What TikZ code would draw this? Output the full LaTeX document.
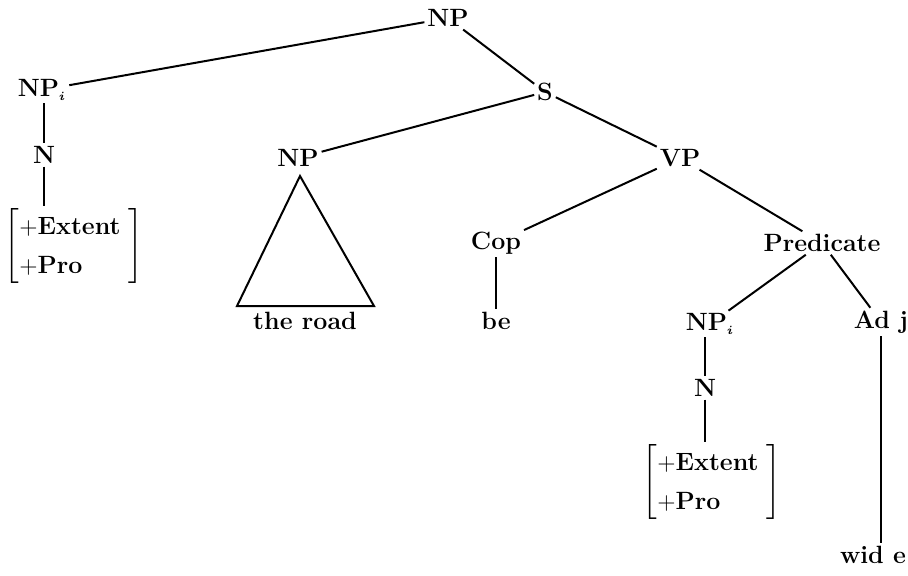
\documentclass[tikz,border=0pt]{standalone}
\usepackage{amsmath}
\usepackage{amssymb}
\usetikzlibrary{positioning}

\newcommand{\featbox}[1]{$\renewcommand{\arraystretch}{1.3}\left[\begin{array}{@{}l@{\hspace{#1}}}
   +\textbf{Extent}\\+\textbf{Pro}\end{array}\right]$}

\begin{document}
\begin{tikzpicture}[x=0.5pt,y=-0.5pt,line width=1pt,
                    cat node/.style={font=\fontsize{12.5}{15}\selectfont\bfseries,inner sep=1pt},
                    feat node/.style={font=\fontsize{12.5}{15}\selectfont\bfseries,inner sep=0pt}]

\useasboundingbox (0,0) rectangle (908,575);

\node[cat node] (np) at (448,18) {NP};
\node[cat node] (npi) at (42,90) {NP$_{\scriptscriptstyle\boldsymbol{i}}$};
\node[cat node] (s) at (545,92) {S};
\node[cat node] (n1) at (44,155) {N};
\node[feat node] (feat1) at (74,246) {\featbox{4pt}};
\node[cat node] (npm) at (298,158) {NP};
\node[cat node] (vp) at (680,158) {VP};
\node[cat node] (road) at (305,321) {the road};
\node[cat node] (cop) at (496,243) {Cop};
\node[cat node] (be) at (496,321) {be};
\node[cat node] (pred) at (822,243) {Predicate};
\node[cat node] (npj) at (710,324) {NP$_{\scriptscriptstyle\boldsymbol{i}}$};
\node[cat node] (adj) at (881,322) {Ad j};
\node[cat node] (n2) at (705,388) {N};
\node[feat node] (feat2) at (712,482) {\featbox{4pt}};
\node[cat node] (wide) at (873,555) {wid e};

% the triangle under NP
\coordinate (apex) at (300,176);
\coordinate (tl) at (237,306);
\coordinate (tr) at (374,306);
\draw (apex) -- (tl) -- (tr) -- cycle;

\path
(np) edge (npi)
     edge (s)
(npi.south -| n1) edge (n1)
(n1) edge (n1 |- feat1.north)
(s) edge (npm)
    edge (vp)
(vp) edge (cop)
     edge (pred)
(cop) edge (be)
(pred) edge (npj)
       edge (adj)
(npj.south -| n2) edge (n2)
(n2) edge (n2 |- feat2.north)
(adj) edge (adj |- wide.north);
\end{tikzpicture}
\end{document}
